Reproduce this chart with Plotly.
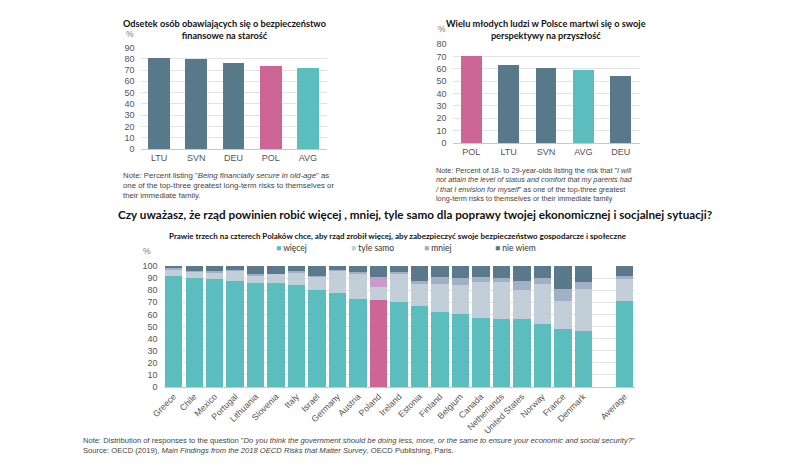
import plotly.graph_objects as go

W, H = 788, 474

# ---- Top-left chart data ----
tl_categories = ["LTU", "SVN", "DEU", "POL", "AVG"]
tl_values = [81, 80, 76, 74, 72]

# ---- Top-right chart data ----
tr_categories = ["POL", "LTU", "SVN", "AVG", "DEU"]
tr_values = [70, 63, 61, 59, 54]

# ---- Bottom chart data ----
countries = ["Greece", "Chile", "Mexico", "Portugal", "Lithuania", "Slovenia", "Italy",
             "Israel", "Germany", "Austria", "Poland", "Ireland", "Estonia", "Finland",
             "Belgium", "Canada", "Netherlands", "United States", "Norway", "France",
             "Denmark", " ", "Average"]
more = [92, 90, 89, 88, 86, 86, 84, 80, 78, 73, 72, 70, 67, 62, 60, 57, 56, 56, 52, 48, 46, None, 71]
same = [5, 5, 5, 8, 6, 7, 10, 11, 18, 20, 11, 23, 18, 23, 24, 30, 31, 24, 33, 23, 35, None, 18]
less = [1, 0.5, 1.5, 1, 1.5, 0.5, 2, 1, 0.5, 2, 8, 2, 3, 6, 6, 4, 3, 8, 5, 10, 6, None, 3]
dont_know = [2, 4.5, 4.5, 3, 6.5, 6.5, 4, 8, 3.5, 5, 9, 5, 12, 9, 10, 9, 10, 12, 10, 19, 13, None, 8]
series_names = ["więcej", "tyle samo", "mniej", "nie wiem"]

SLATE = "#58798a"
PINK = "#cd6597"
TEAL = "#5bbdbd"
LIGHT = "#c3cfd8"
MID = "#a2b0c6"
DARK = "#5a7a8b"
POL_LESS = "#c79bcc"
GRID = "#e3e3e3"
AXIS_FONT = dict(family="Liberation Sans, Arial, sans-serif", size=9, color="#555555")

def bar_color(c):
    return PINK if c == "POL" else (TEAL if c == "AVG" else SLATE)

fig = go.Figure()

fig.add_trace(go.Bar(x=tl_categories, y=tl_values, marker_color=[bar_color(c) for c in tl_categories],
                     marker_line_width=0, width=0.59, xaxis="x", yaxis="y", showlegend=False))
fig.add_trace(go.Bar(x=tr_categories, y=tr_values, marker_color=[bar_color(c) for c in tr_categories],
                     marker_line_width=0, width=0.56, xaxis="x2", yaxis="y2", showlegend=False))

stack_colors = [TEAL, LIGHT, MID, DARK]
for name, vals, col in zip(series_names, [more, same, less, dont_know], stack_colors):
    cols = []
    for c in countries:
        if c == "Poland" and col == TEAL:
            cols.append(PINK)
        elif c == "Poland" and col == MID:
            cols.append(POL_LESS)
        else:
            cols.append(col)
    fig.add_trace(go.Bar(x=countries, y=vals, name=name, marker_color=cols, marker_line_width=0,
                         width=0.85, xaxis="x3", yaxis="y3", showlegend=False))

def fx(px):
    return px / W

def fy(py):
    return 1 - py / H

XAX = dict(showgrid=False, showline=True, linecolor="#c8c8c8", linewidth=1, ticks="",
           automargin=False, zeroline=False)
YAX = dict(showgrid=True, gridcolor=GRID, gridwidth=1, zeroline=False, showline=False,
           automargin=False, ticks="", ticklabelstandoff=5, tickfont=AXIS_FONT)

fig.update_layout(
    width=W, height=H, margin=dict(l=0, r=0, t=0, b=0, autoexpand=False),
    plot_bgcolor="white", paper_bgcolor="white", barmode="stack",
    xaxis=dict(XAX, domain=[fx(140.5), fx(326.5)], tickfont=AXIS_FONT, anchor="y"),
    yaxis=dict(YAX, domain=[fy(149), fy(47.5)], range=[0, 90], dtick=10, anchor="x"),
    xaxis2=dict(XAX, domain=[fx(452.5), fx(639.5)], tickfont=AXIS_FONT, anchor="y2"),
    yaxis2=dict(YAX, domain=[fy(143), fy(44)], range=[0, 80], dtick=10, anchor="x2"),
    xaxis3=dict(XAX, domain=[fx(163.5), fx(634.5)],
                tickfont=dict(family="Liberation Sans, Arial, sans-serif", size=8.8, color="#555555"),
                tickangle=-45, anchor="y3"),
    yaxis3=dict(YAX, domain=[fy(387), fy(266)], range=[0, 100], dtick=10, anchor="x3"),
)

TITLE_FONT = dict(family="Lato, sans-serif", size=9.2, color="#111111", weight=700)
NOTE_FONT = dict(family="Liberation Sans, Arial, sans-serif", size=7.8, color="#444444")
PCT_FONT = dict(family="Liberation Sans, Arial, sans-serif", size=8.5, color="#777777")

ann = []
ann.append(dict(x=fx(224), y=fy(29), text="Odsetek osób obawiających się o bezpieczeństwo<br>finansowe na starość",
                font=TITLE_FONT, showarrow=False, xanchor="center", yanchor="middle"))
ann.append(dict(x=fx(130), y=fy(34), text="%", font=PCT_FONT, showarrow=False, xanchor="center", yanchor="middle"))
ann.append(dict(x=fx(121), y=fy(169), text="Note: Percent listing \"<i>Being financially secure in old-age</i>\" as<br>one of the top-three greatest long-term risks to themselves or<br>their immediate family.",
                font=NOTE_FONT, align="left", showarrow=False, xanchor="left", yanchor="top"))

ann.append(dict(x=fx(546), y=fy(29), text="Wielu młodych ludzi w Polsce martwi się o swoje<br>perspektywy na przyszłość",
                font=TITLE_FONT, showarrow=False, xanchor="center", yanchor="middle"))
ann.append(dict(x=fx(442), y=fy(29), text="%", font=PCT_FONT, showarrow=False, xanchor="center", yanchor="middle"))
ann.append(dict(x=fx(433), y=fy(164), text="Note: Percent of 18- to 29-year-olds listing the risk that \"<i>I will<br>not attain the level of status and comfort that my parents had<br>/ that I envision for myself</i>\" as one of the top-three greatest<br>long-term risks to themselves or their immediate family",
                font=dict(NOTE_FONT, size=7.3), align="left", showarrow=False, xanchor="left", yanchor="top"))

ann.append(dict(x=fx(415), y=fy(214), text="Czy uważasz, że rząd powinien robić więcej , mniej, tyle samo dla poprawy twojej ekonomicznej i socjalnej sytuacji?",
                font=dict(family="Lato, sans-serif", size=11.7, color="#111111", weight=700),
                showarrow=False, xanchor="center", yanchor="middle"))
ann.append(dict(x=fx(398), y=fy(236), text="Prawie trzech na czterech Polaków chce, aby rząd zrobił więcej, aby zabezpieczyć swoje bezpieczeństwo gospodarcze i społeczne",
                font=dict(family="Lato, sans-serif", size=8, color="#111111", weight=700),
                showarrow=False, xanchor="center", yanchor="middle"))
ann.append(dict(x=fx(147), y=fy(251), text="%", font=PCT_FONT, showarrow=False, xanchor="center", yanchor="middle"))

legend_x = [274, 349, 422, 493]
for name, col, lx in zip(series_names, stack_colors, legend_x):
    ann.append(dict(x=fx(lx), y=fy(248), text=f"<span style='color:{col}'>■</span> {name}",
                    font=dict(family="Lato, sans-serif", size=8.5, color="#333333"),
                    showarrow=False, xanchor="left", yanchor="middle"))

ann.append(dict(x=fx(81), y=fy(434), text="Note: Distribution of responses to the question \"<i>Do you think the government should be doing less, more, or the same to ensure your economic and social security?</i>\"<br>Source: OECD (2019), <i>Main Findings from the 2018 OECD Risks that Matter Survey</i>, OECD Publishing, Paris.",
                font=dict(NOTE_FONT, size=7.6),
                align="left", showarrow=False, xanchor="left", yanchor="top"))

for a in ann:
    a["xref"] = "paper"
    a["yref"] = "paper"

fig.update_layout(annotations=ann)

fig.write_html("out.html",
               config={"displayModeBar": False, "staticPlot": True},
               post_script="document.body.style.margin='0';document.body.style.overflow='hidden';")
